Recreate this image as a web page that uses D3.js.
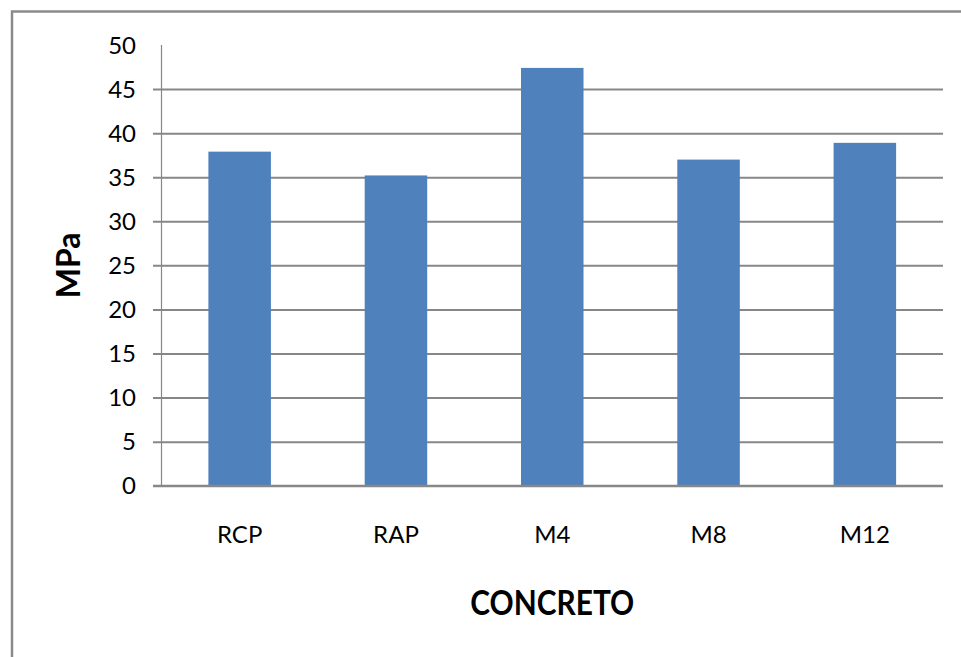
<!DOCTYPE html>
<html>
<head>
<meta charset="utf-8">
<script src="https://cdn.jsdelivr.net/npm/d3@7"></script>
<style>
  html, body { margin: 0; padding: 0; background: #ffffff; }
  svg { display: block; }
</style>
</head>
<body>
<svg id="chart" width="961" height="657"></svg>
<script>
// Compressive strength per concrete mix
const categories = ["RCP", "RAP", "M4", "M8", "M12"];
const values = [37.9, 35.2, 47.4, 37.0, 38.9];
const yTicks = [0, 5, 10, 15, 20, 25, 30, 35, 40, 45, 50];
const xTitle = "CONCRETO";
const yTitle = "MPa";

const svg = d3.select("#chart");
const W = 961, H = 657;
const plot = { left: 161.5, right: 943, top: 45, bottom: 485.7 };
const gridColor = "#878787";
const barColor = "#4f81bd";
const font = "Lato, 'Open Sans', sans-serif";

// Outer chart frame (runs past the right and bottom edges)
svg.append("rect")
  .attr("x", 12).attr("y", 11.5)
  .attr("width", W + 20).attr("height", H + 20)
  .attr("fill", "#ffffff")
  .attr("stroke", "#8a8a8a")
  .attr("stroke-width", 2.5);

const x = d3.scaleBand()
  .domain(categories)
  .range([plot.left, plot.right])
  .paddingInner(0.6)
  .paddingOuter(0.3);

const y = d3.scaleLinear()
  .domain([0, 50])
  .range([plot.bottom, plot.top]);

// Horizontal gridlines with tick stubs on the left
const yAxis = d3.axisLeft(y)
  .tickValues(yTicks)
  .tickSize(-(plot.right - plot.left))
  .tickPadding(0)
  .tickFormat("");
const gy = svg.append("g")
  .attr("transform", `translate(${plot.left},0)`)
  .call(yAxis);
gy.select(".domain").remove();
gy.selectAll(".tick line")
  .filter(d => d !== 50)
  .attr("x1", -8.5)
  .attr("stroke", gridColor)
  .attr("stroke-width", 2);
gy.selectAll(".tick line").filter(d => d === 50).remove();

// Vertical axis line
svg.append("line")
  .attr("x1", plot.left).attr("x2", plot.left)
  .attr("y1", plot.top).attr("y2", plot.bottom)
  .attr("stroke", gridColor)
  .attr("stroke-width", 1.2);

// Y tick labels
svg.append("g")
  .selectAll("text")
  .data(yTicks)
  .join("text")
  .attr("x", 136)
  .attr("y", d => y(d))
  .attr("dy", "0.36em")
  .attr("text-anchor", "end")
  .attr("font-family", font)
  .attr("font-size", 24)
  .attr("fill", "#000")
  .text(d => d);

// Bars
svg.append("g")
  .selectAll("rect")
  .data(categories.map((c, i) => ({ c, v: values[i] })))
  .join("rect")
  .attr("x", d => x(d.c))
  .attr("width", x.bandwidth())
  .attr("y", d => y(d.v))
  .attr("height", d => y(0) - y(d.v))
  .attr("fill", barColor);

// Redraw baseline over the bars
svg.append("line")
  .attr("x1", plot.left - 8.5).attr("x2", plot.right)
  .attr("y1", y(0)).attr("y2", y(0))
  .attr("stroke", gridColor)
  .attr("stroke-width", 2);

// Category labels
svg.append("g")
  .selectAll("text")
  .data(categories)
  .join("text")
  .attr("x", d => x(d) + x.bandwidth() / 2)
  .attr("y", 534)
  .attr("dy", "0.36em")
  .attr("text-anchor", "middle")
  .attr("font-family", font)
  .attr("font-size", 24)
  .attr("fill", "#000")
  .text(d => d);

// Axis titles
svg.append("text")
  .attr("x", (plot.left + plot.right) / 2)
  .attr("y", 615)
  .attr("text-anchor", "middle")
  .attr("font-family", font)
  .attr("font-weight", "bold")
  .attr("font-size", 35)
  .attr("textLength", 164)
  .attr("lengthAdjust", "spacingAndGlyphs")
  .attr("fill", "#000")
  .text(xTitle);

svg.append("text")
  .attr("transform", `translate(80, ${(plot.top + plot.bottom) / 2}) rotate(-90)`)
  .attr("text-anchor", "middle")
  .attr("font-family", font)
  .attr("font-weight", "bold")
  .attr("font-size", 32)
  .attr("fill", "#000")
  .text(yTitle);
</script>
</body>
</html>
